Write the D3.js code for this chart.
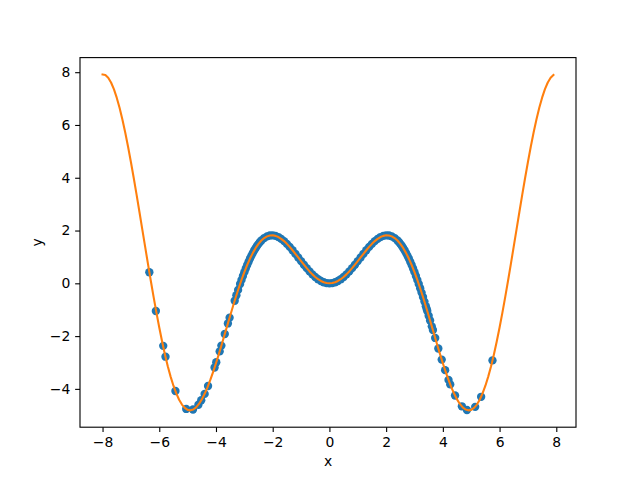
<!DOCTYPE html>
<html><head><meta charset="utf-8">
<script src="https://cdn.jsdelivr.net/npm/d3@7"></script>
<style>body{margin:0;background:#fff}svg{display:block}text{font-family:"DejaVu Sans",sans-serif}</style>
</head><body>
<svg id="c" width="640" height="480"></svg>
<script>
// Orange line samples (x, y)
const lineX = [-8.0,-7.9,-7.8,-7.7,-7.6,-7.5,-7.4,-7.3,-7.2,-7.1,-7.0,-6.9,-6.8,-6.7,-6.6,-6.5,-6.4,-6.3,-6.2,-6.1,-6.0,-5.9,-5.8,-5.7,-5.6,-5.5,-5.4,-5.3,-5.2,-5.1,-5.0,-4.9,-4.8,-4.7,-4.6,-4.5,-4.4,-4.3,-4.2,-4.1,-4.0,-3.9,-3.8,-3.7,-3.6,-3.5,-3.4,-3.3,-3.2,-3.1,-3.0,-2.9,-2.8,-2.7,-2.6,-2.5,-2.4,-2.3,-2.2,-2.1,-2.0,-1.9,-1.8,-1.7,-1.6,-1.5,-1.4,-1.3,-1.2,-1.1,-1.0,-0.9,-0.8,-0.7,-0.6,-0.5,-0.4,-0.3,-0.2,-0.1,0.0,0.1,0.2,0.3,0.4,0.5,0.6,0.7,0.8,0.9,1.0,1.1,1.2,1.3,1.4,1.5,1.6,1.7,1.8,1.9,2.0,2.1,2.2,2.3,2.4,2.5,2.6,2.7,2.8,2.9,3.0,3.1,3.2,3.3,3.4,3.5,3.6,3.7,3.8,3.9,4.0,4.1,4.2,4.3,4.4,4.5,4.6,4.7,4.8,4.9,5.0,5.1,5.2,5.3,5.4,5.5,5.6,5.7,5.8,5.9,6.0,6.1,6.2,6.3,6.4,6.5,6.6,6.7,6.8,6.9,7.0,7.1,7.2,7.3,7.4,7.5,7.6,7.7,7.8,7.9];
const lineY = [7.915,7.891,7.788,7.609,7.356,7.035,6.650,6.208,5.715,5.176,4.599,3.991,3.360,2.712,2.056,1.398,0.746,0.106,-0.515,-1.111,-1.676,-2.206,-2.695,-3.139,-3.535,-3.880,-4.173,-4.411,-4.594,-4.722,-4.795,-4.814,-4.782,-4.700,-4.571,-4.399,-4.187,-3.940,-3.661,-3.355,-3.027,-2.682,-2.325,-1.960,-1.593,-1.228,-0.869,-0.520,-0.187,0.129,0.423,0.694,0.938,1.154,1.340,1.496,1.621,1.715,1.779,1.813,1.819,1.798,1.753,1.686,1.599,1.496,1.380,1.253,1.118,0.980,0.841,0.705,0.574,0.451,0.339,0.240,0.156,0.089,0.040,0.010,0.000,0.010,0.040,0.089,0.156,0.240,0.339,0.451,0.574,0.705,0.841,0.980,1.118,1.253,1.380,1.496,1.599,1.686,1.753,1.798,1.819,1.813,1.779,1.715,1.621,1.496,1.340,1.154,0.938,0.694,0.423,0.129,-0.187,-0.520,-0.869,-1.228,-1.593,-1.960,-2.325,-2.682,-3.027,-3.355,-3.661,-3.940,-4.187,-4.399,-4.571,-4.700,-4.782,-4.814,-4.795,-4.722,-4.594,-4.411,-4.173,-3.880,-3.535,-3.139,-2.695,-2.206,-1.676,-1.111,-0.515,0.106,0.746,1.398,2.056,2.712,3.360,3.991,4.599,5.176,5.715,6.208,6.650,7.035,7.356,7.609,7.788,7.891];

// Blue scatter points (x, y)
const scatterX = [-6.35,-6.12,-5.86,-5.78,-5.43,-5.05,-4.81,-4.62,-4.52,-4.40,-4.28,-4.05,-3.99,-3.87,-3.81,-3.69,-3.58,-3.52,-3.34,-3.28,-3.22,
  -3.15,-3.05,-2.95,-2.85,-2.75,-2.65,-2.55,-2.45,
  -3.1,-3.0,-2.9,-2.8,-2.7,-2.6,-2.5,-2.4,-2.3,-2.2,-2.1,-2.0,-1.9,-1.8,-1.7,-1.6,-1.5,-1.4,-1.3,-1.2,-1.1,-1.0,-0.9,-0.8,-0.7,-0.6,-0.5,-0.4,-0.3,-0.2,-0.1,0.0,
  0.1,0.2,0.3,0.4,0.5,0.6,0.7,0.8,0.9,1.0,1.1,1.2,1.3,1.4,1.5,1.6,1.7,1.8,1.9,2.0,2.1,2.2,2.3,2.4,2.5,2.6,2.7,2.8,2.9,3.0,3.1,3.2,3.3,
  2.45,2.55,2.65,2.75,2.85,2.95,3.05,3.15,3.25,3.35,
  3.4,3.43,3.45,3.5,3.55,3.61,3.65,3.73,3.84,3.96,4.08,4.2,4.26,4.43,4.67,4.85,5.14,5.35,5.75];
const scatterY = [0.42,-1.05,-2.37,-2.78,-4.08,-4.76,-4.78,-4.60,-4.43,-4.19,-3.89,-3.19,-2.99,-2.58,-2.36,-1.92,-1.52,-1.30,-0.66,-0.45,-0.25,
  -0.026,0.279,0.562,0.819,1.050,1.251,1.422,1.563,
  0.129,0.423,0.694,0.938,1.154,1.340,1.496,1.621,1.715,1.779,1.813,1.819,1.798,1.753,1.686,1.599,1.496,1.380,1.253,1.118,0.980,0.841,0.705,0.574,0.451,0.339,0.240,0.156,0.089,0.040,0.010,0.000,
  0.010,0.040,0.089,0.156,0.240,0.339,0.451,0.574,0.705,0.841,0.980,1.118,1.253,1.380,1.496,1.599,1.686,1.753,1.798,1.819,1.813,1.779,1.715,1.621,1.496,1.340,1.154,0.938,0.694,0.423,0.129,-0.187,-0.520,
  1.563,1.422,1.251,1.050,0.819,0.562,0.279,-0.026,-0.352,-0.692,
  -0.869,-0.97,-1.047,-1.23,-1.41,-1.63,-1.77,-2.07,-2.47,-2.89,-3.29,-3.66,-3.83,-4.25,-4.66,-4.80,-4.68,-4.30,-2.92];

const xTicks = [-8,-6,-4,-2,0,2,4,6,8];
const yTicks = [-4,-2,0,2,4,6,8];

const svg = d3.select("#c");
const L = 80, R = 576, T = 57.6, B = 427.2;
const x = d3.scaleLinear().domain([-8.795, 8.695]).range([L, R]);
const y = d3.scaleLinear().domain([-5.452, 8.553]).range([B, T]);
const fmt = d => (d < 0 ? "\u2212" + Math.abs(d) : String(d));

const g = svg.append("g");
g.selectAll("circle").data(scatterX.map((v,i)=>[v, scatterY[i]])).join("circle")
  .attr("cx", d => x(d[0])).attr("cy", d => y(d[1])).attr("r", 4.17)
  .attr("fill", "#1f77b4");

g.append("path").datum(lineX.map((v,i)=>[v, lineY[i]]))
  .attr("fill","none").attr("stroke","#ff7f0e").attr("stroke-width",2.08)
  .attr("stroke-linejoin","round").attr("stroke-linecap","square")
  .attr("d", d3.line().x(d=>x(d[0])).y(d=>y(d[1])));

const xa = svg.append("g").attr("transform", `translate(0,${B})`)
  .call(d3.axisBottom(x).tickValues(xTicks).tickFormat(fmt).tickSize(4.86).tickPadding(4.9));
const ya = svg.append("g").attr("transform", `translate(${L},0)`)
  .call(d3.axisLeft(y).tickValues(yTicks).tickFormat(fmt).tickSize(4.86).tickPadding(4.9));
[xa, ya].forEach(a => {
  a.select(".domain").remove();
  a.selectAll("line").attr("stroke","#000").attr("stroke-width",1.11);
  a.selectAll("text").attr("font-size","13.9px").attr("fill","#000").attr("font-family","DejaVu Sans");
});

svg.append("rect").attr("x",L).attr("y",T).attr("width",R-L).attr("height",B-T)
  .attr("fill","none").attr("stroke","#000").attr("stroke-width",1.11);

svg.append("text").attr("x",(L+R)/2).attr("y",466).attr("text-anchor","middle")
  .attr("font-size","13.9px").text("x");
svg.append("text").attr("transform",`translate(42,${(T+B)/2}) rotate(-90)`).attr("text-anchor","middle")
  .attr("font-size","13.9px").text("y");
</script>
</body></html>
